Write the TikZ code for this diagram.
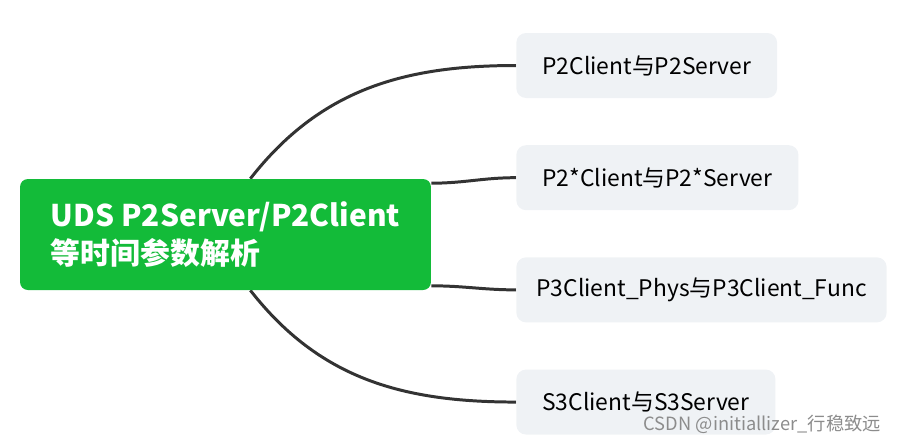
\documentclass[tikz,border=0pt]{standalone}
\usepackage{fontspec}
\setmainfont{Noto Sans CJK SC}
\usetikzlibrary{positioning,backgrounds,calc}
\definecolor{rootgreen}{HTML}{13BB39}
\definecolor{leafgray}{HTML}{EFF2F5}
\definecolor{linkgray}{HTML}{333333}
\definecolor{markgray}{HTML}{8C8C8C}
\tikzset{
  rootbox/.style={rectangle,rounded corners=4.5pt,fill=rootgreen,text=white,align=left,minimum width=8.22cm,minimum height=2.22cm,font=\fontsize{17}{21.6}\selectfont\bfseries},
  leaf/.style={rectangle,rounded corners=5.5pt,fill=leafgray,minimum height=1.3cm,inner xsep=0.52cm,font=\fontsize{13}{15}\selectfont},
  link/.style={line width=1.7pt,linkgray},
  watermark/.style={font=\fontsize{10.4}{12}\selectfont,text=markgray}
}
\begin{document}
\begin{tikzpicture}[x=0.02cm,y=-0.02cm]
  \useasboundingbox (0,0) rectangle (901,444);
  \node[rootbox] (root) at (225.5,234.5) {UDS P2Server/P2Client\\等时间参数解析};
  \node[leaf,anchor=west] (p2) at (516,65.5) {P2Client与P2Server};
  \node[leaf,below=0.93cm of p2.south west,anchor=north west] (p2star) {P2*Client与P2*Server};
  \node[leaf,below=0.93cm of p2star.south west,anchor=north west,inner xsep=0.4cm] (p3) {P3Client\_Phys与P3Client\_Func};
  \node[leaf,below=0.93cm of p3.south west,anchor=north west] (s3) {S3Client与S3Server};
  \begin{scope}[on background layer]
    \draw[link] (root.66) to[out=52,in=180] (p2.west);
    \draw[link] (root.14) to[out=0,in=180] (p2star.west);
    \draw[link] (root.-14) to[out=0,in=180] (p3.west);
    \draw[link] (root.-66) to[out=-52,in=180] (s3.west);
  \end{scope}
  \node[watermark,anchor=east] (csdn) at (887,424) {CSDN @initiallizer\_行稳致远};
\end{tikzpicture}
\end{document}
